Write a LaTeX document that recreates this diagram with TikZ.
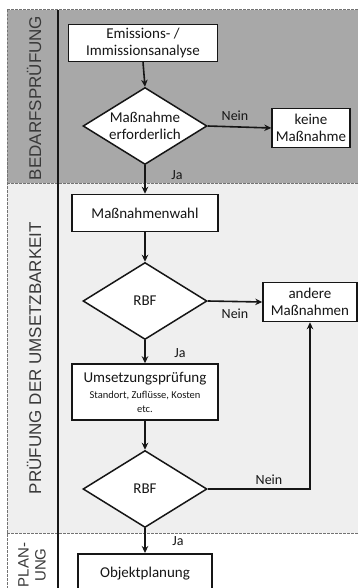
\documentclass[tikz,border=0pt]{standalone}
\usepackage{fontspec}
\setmainfont{Carlito}
\newfontfamily\lblfont{Liberation Sans}
\usetikzlibrary{shapes.geometric,arrows.meta}
\definecolor{topgray}{HTML}{A8A8A8}
\definecolor{midgray}{HTML}{EFEFEF}
\definecolor{ink}{HTML}{161616}
\begin{document}
\begin{tikzpicture}[x=1pt,y=-1pt,
  box/.style={draw=ink,line width=1.5pt,fill=white,text=ink,align=center,inner sep=0pt,font=\fontsize{15}{17}\selectfont},
  dec/.style={draw=ink,line width=1.5pt,fill=white,text=ink,align=center,shape=diamond,inner sep=0pt,aspect=1.6,minimum width=124pt,minimum height=77pt,font=\fontsize{15}{17}\selectfont},
  conn/.style={draw=ink,line width=1.6pt,-{Stealth[length=7pt,width=6.5pt]}},
  lab/.style={text=ink,font=\fontsize{14}{16}\selectfont},
  phase/.style={text=ink!85,rotate=90,align=center,font=\lblfont\fontsize{17}{17}\selectfont},
  sep/.style={draw=black!55,line width=1pt,dash pattern=on 2.5pt off 1.5pt}]
\useasboundingbox (0,0) rectangle (358,588);
\clip (0,0) rectangle (358,588);
% backgrounds
\fill[topgray] (7,10) rectangle (358,183);
\fill[midgray] (7,183) rectangle (358,533);
\fill[white] (7,533) rectangle (358,588);
\draw[sep] (7,10) -- (358,10);
\draw[sep] (7,183) -- (358,183);
\draw[sep] (7,533) -- (358,533);
\draw[sep] (7,10) -- (7,588);
\draw[ink,line width=1.5pt] (58,10) -- (58,588);
% phase labels
\node[phase] (p1) at (34,98) {BEDARFSPRÜFUNG};
\node[phase] (p2) at (34,358) {PRÜFUNG DER UMSETZBARKEIT};
\node[phase,font=\lblfont\fontsize{15}{17}\selectfont] (p3) at (32,565) {PLAN-\\UNG};
% nodes
\node[box,minimum width=149pt,minimum height=37pt] (em) at (143,43) {Emissions- /\\Immissionsanalyse};
\node[dec] (d1) at (145,126) {Maßnahme\\erforderlich};
\node[box,minimum width=78pt,minimum height=39pt] (keine) at (311,128) {keine\\Maßnahme};
\node[box,minimum width=146pt,minimum height=37pt] (mw) at (145,213) {Maßnahmenwahl};
\node[dec] (r1) at (145,301) {RBF};
\node[box,minimum width=94pt,minimum height=39pt] (andere) at (310,302) {andere\\Maßnahmen};
\node[box,minimum width=146pt,minimum height=56pt] (ums) at (145,392) {Umsetzungsprüfung\\[-1pt]{\fontsize{10.5}{12}\selectfont Standort, Zuflüsse, Kosten}\\[-3pt]{\fontsize{10.5}{12}\selectfont etc.}};
\node[dec] (r2) at (145,489) {RBF};
\node[box,minimum width=134pt,minimum height=50pt,anchor=north] (obj) at (145,553) {\raisebox{12pt}{Objektplanung}};
% connectors
\draw[conn] (em.south) -- (d1.north);
\draw[conn] (d1.east) -- (keine.west);
\draw[conn] (d1.south) -- (mw.north);
\draw[conn] (mw.south) -- (r1.north);
\draw[conn] (r1.east) -- (andere.west);
\draw[conn] (r1.south) -- (ums.north);
\draw[conn] (ums.south) -- (r2.north);
\draw[conn] (r2.east) -| (andere.south);
\draw[conn] (r2.south) -- (obj.north);
% labels
\node[lab] (n1) at (235,116) {Nein};
\node[lab] (j1) at (177,175) {Ja};
\node[lab] (n2) at (235,314) {Nein};
\node[lab] (j2) at (180,353) {Ja};
\node[lab] (n3) at (269,480) {Nein};
\node[lab] (j3) at (178,541) {Ja};
\end{tikzpicture}
\end{document}
